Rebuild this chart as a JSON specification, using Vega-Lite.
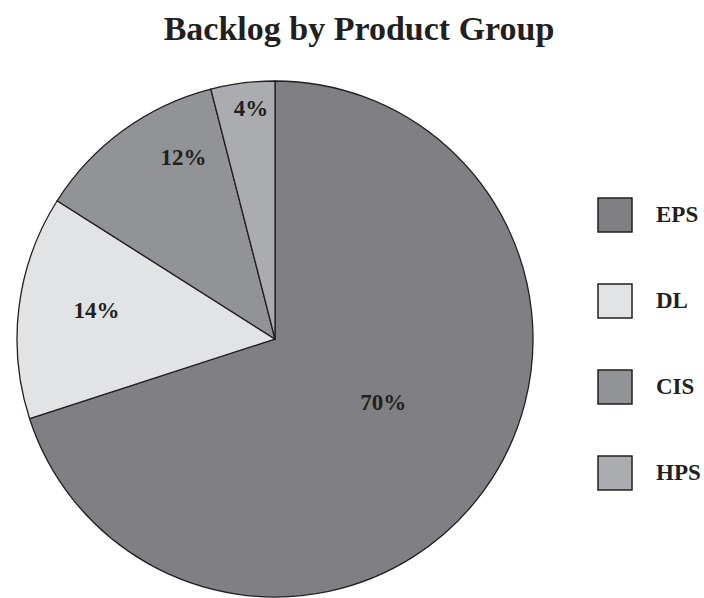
{
  "$schema": "https://vega.github.io/schema/vega-lite/v6.json",
  "autosize": {"type": "none"},
  "width": 550,
  "height": 518,
  "padding": {"left": 0, "top": 80, "right": 154, "bottom": 0},
  "background": "white",
  "title": {
    "text": "Backlog by Product Group",
    "font": "Liberation Serif",
    "fontSize": 34,
    "fontWeight": "bold",
    "color": "#231f20",
    "anchor": "middle",
    "dx": 84,
    "offset": 31
  },
  "config": {"view": {"stroke": null}},
  "data": {
    "values": [
      {"group": "EPS", "value": 0.70},
      {"group": "DL", "value": 0.14},
      {"group": "CIS", "value": 0.12},
      {"group": "HPS", "value": 0.04}
    ]
  },
  "encoding": {
    "theta": {"field": "value", "type": "quantitative", "stack": true},
    "order": {"field": "value", "type": "quantitative", "sort": "descending"}
  },
  "layer": [
    {
      "mark": {"type": "arc", "outerRadius": 258, "stroke": "#231f20", "strokeWidth": 1.3},
      "encoding": {
        "color": {
          "field": "group",
          "type": "nominal",
          "scale": {"domain": ["EPS", "DL", "CIS", "HPS"], "range": ["#808084", "#e2e3e5", "#929397", "#abacaf"]},
          "legend": {
            "title": null,
            "orient": "none",
            "legendX": 597,
            "legendY": 117,
            "symbolType": "square",
            "symbolSize": 1156,
            "symbolStrokeColor": "#231f20",
            "symbolStrokeWidth": 1.5,
            "symbolOpacity": 1,
            "rowPadding": 46,
            "labelOffset": 23,
            "labelFont": "Liberation Serif",
            "labelFontSize": 23,
            "labelFontWeight": "bold",
            "labelColor": "#231f20",
            "labelLimit": 200
          }
        }
      }
    },
    {
      "mark": {
        "type": "text",
        "font": "Liberation Serif",
        "fontSize": 23,
        "fontWeight": "bold",
        "color": "#231f20",
        "baseline": "middle",
        "align": "center",
        "radius": {"expr": "datum.group === 'EPS' ? 125 : datum.group === 'DL' ? 180 : datum.group === 'CIS' ? 200 : 232"},
        "dx": {"expr": "datum.group === 'CIS' ? 26 : datum.group === 'EPS' ? 7 : datum.group === 'HPS' ? 5 : 0"},
        "dy": {"expr": "datum.group === 'CIS' ? -19 : datum.group === 'EPS' ? -9 : datum.group === 'DL' ? -5 : 0"}
      },
      "encoding": {
        "text": {"field": "value", "type": "quantitative", "format": ".0%"}
      }
    }
  ]
}
